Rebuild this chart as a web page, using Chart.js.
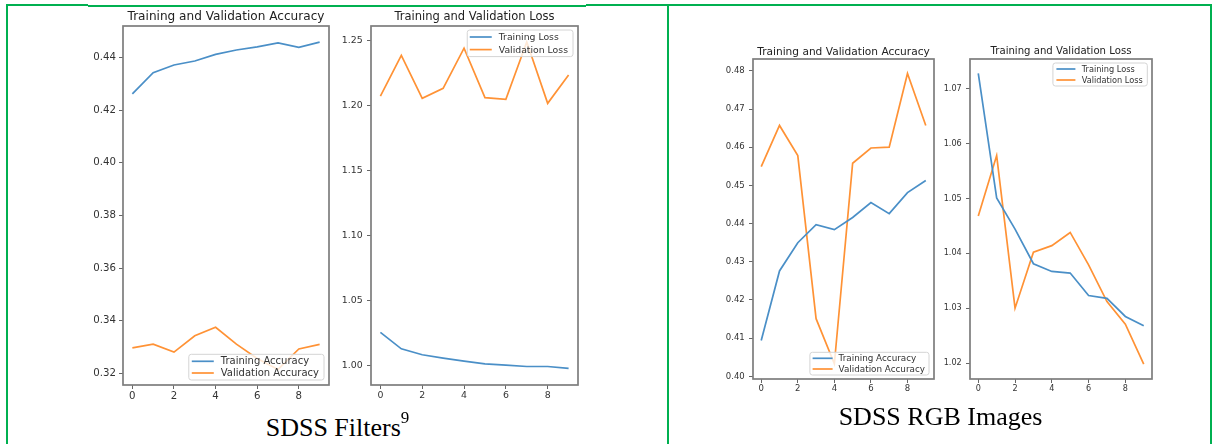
<!DOCTYPE html>
<html><head><meta charset="utf-8">
<script src="https://cdn.jsdelivr.net/npm/chart.js@4"></script>
<style>
html,body{margin:0;padding:0;background:#fff;}
body{width:1216px;height:444px;position:relative;overflow:hidden;}
.g{position:absolute;background:#00b050;}
canvas{position:absolute;}
.cap{position:absolute;font-family:"Liberation Serif","Times New Roman",serif;font-size:26px;line-height:26px;color:#000;text-align:center;white-space:nowrap;}
.cap .sup{font-size:17px;position:relative;top:-13px;line-height:0;}
</style></head>
<body>
<div class="g" style="left:6px;top:4px;width:82px;height:2.4px"></div>
<div class="g" style="left:88px;top:5px;width:498px;height:1.5px"></div>
<div class="g" style="left:586px;top:4px;width:626px;height:2.4px"></div>
<div class="g" style="left:6px;top:4px;width:2.2px;height:440px"></div>
<div class="g" style="left:667px;top:4px;width:2.2px;height:440px"></div>
<div class="g" style="left:1210px;top:4px;width:1.8px;height:440px"></div>

<canvas id="c1"></canvas>
<canvas id="c2"></canvas>
<canvas id="c3"></canvas>
<canvas id="c4"></canvas>

<div class="cap" style="left:8px;width:659px;top:415px">SDSS Filters<span class="sup">9</span></div>
<div class="cap" style="left:671px;width:539px;top:404px">SDSS RGB Images</div>

<script>
// ---------------- data ----------------
const epochs = [0, 1, 2, 3, 4, 5, 6, 7, 8, 9];
const xTicks = [0, 2, 4, 6, 8];

// SDSS Filters
const filtersTrainAcc  = [0.4261, 0.4342, 0.4371, 0.4386, 0.4411, 0.4428, 0.4440, 0.4455, 0.4438, 0.4458];
const filtersValAcc    = [0.3297, 0.3311, 0.3281, 0.3343, 0.3375, 0.3311, 0.3257, 0.3215, 0.3293, 0.3310];
const filtersTrainLoss = [1.0257, 1.0131, 1.0085, 1.0059, 1.0036, 1.0015, 1.0005, 0.9995, 0.9995, 0.9980];
const filtersValLoss   = [1.2072, 1.2385, 1.2055, 1.2131, 1.2440, 1.2060, 1.2047, 1.2487, 1.2016, 1.2234];
const filtersAccTicks  = [0.32, 0.34, 0.36, 0.38, 0.40, 0.42, 0.44];
const filtersLossTicks = [1.00, 1.05, 1.10, 1.15, 1.20, 1.25];
const filtersAccRange  = [0.3156, 0.4519];
const filtersLossRange = [0.9853, 1.2610];

// SDSS RGB Images
const rgbTrainAcc  = [0.4094, 0.4276, 0.4350, 0.4397, 0.4384, 0.4416, 0.4455, 0.4426, 0.4481, 0.4513];
const rgbValAcc    = [0.4549, 0.4657, 0.4578, 0.4151, 0.4033, 0.4558, 0.4598, 0.4600, 0.4793, 0.4657];
const rgbTrainLoss = [1.0728, 1.0501, 1.0444, 1.0381, 1.0367, 1.0364, 1.0323, 1.0318, 1.0285, 1.0268];
const rgbValLoss   = [1.0468, 1.0578, 1.0300, 1.0402, 1.0414, 1.0438, 1.0379, 1.0312, 1.0271, 1.0198];
const rgbAccTicks  = [0.40, 0.41, 0.42, 0.43, 0.44, 0.45, 0.46, 0.47, 0.48];
const rgbLossTicks = [1.02, 1.03, 1.04, 1.05, 1.06, 1.07];
const rgbAccRange  = [0.3993, 0.4831];
const rgbLossRange = [1.0171, 1.0754];

const titleAcc = 'Training and Validation Accuracy';
const titleLoss = 'Training and Validation Loss';
const labelsAcc = ['Training Accuracy', 'Validation Accuracy'];
const labelsLoss = ['Training Loss', 'Validation Loss'];

// ---------------- drawing ----------------
Chart.defaults.font.family = '"DejaVu Sans", sans-serif';
Chart.defaults.color = '#333';
const BLUE = '#4a8fc7', ORANGE = '#ff9235';

const mplDecor = {
  id: 'mplDecor',
  afterDatasetsDraw(chart, args, o) {
    const ctx = chart.ctx, a = chart.chartArea;
    ctx.save();
    // spines
    ctx.strokeStyle = '#7d7d7d';
    ctx.lineWidth = 1.7;
    ctx.strokeRect(a.left, a.top, a.right - a.left, a.bottom - a.top);
    // legend inside axes
    ctx.font = o.size + 'px "DejaVu Sans", sans-serif';
    const ds = chart.data.datasets;
    const tw = Math.max(...ds.map(d => ctx.measureText(d.label).width));
    const w = o.padL + o.handle + o.gap + tw + o.padR;
    const h = o.padT * 2 + o.rowH * (ds.length - 1);
    const x = a.right - o.insetR - w;
    const y = o.loc === 'lower' ? a.bottom - o.insetV - h : a.top + o.insetV;
    ctx.beginPath();
    if (ctx.roundRect) ctx.roundRect(x, y, w, h, 2.5); else ctx.rect(x, y, w, h);
    ctx.fillStyle = 'rgba(255,255,255,0.8)';
    ctx.fill();
    ctx.strokeStyle = '#d4d4d4';
    ctx.lineWidth = 1;
    ctx.stroke();
    ds.forEach((d, i) => {
      const cy = y + o.padT + i * o.rowH;
      ctx.beginPath();
      ctx.strokeStyle = d.borderColor;
      ctx.lineWidth = 1.7;
      ctx.moveTo(x + o.padL, cy);
      ctx.lineTo(x + o.padL + o.handle, cy);
      ctx.stroke();
      ctx.fillStyle = '#333';
      ctx.textBaseline = 'middle';
      ctx.textAlign = 'left';
      ctx.fillText(d.label, x + o.padL + o.handle + o.gap, cy + 0.5);
    });
    ctx.restore();
  }
};

function makePanel(id, spine, p) {
  const ML = 50, MR = 50, MT = 26, MB = 24;
  const cv = document.getElementById(id);
  const W = spine.r - spine.l + ML + MR, H = spine.b - spine.t + MT + MB;
  cv.width = W; cv.height = H;
  cv.style.left = (spine.l - ML) + 'px';
  cv.style.top = (spine.t - MT) + 'px';
  cv.style.width = W + 'px'; cv.style.height = H + 'px';
  const lh = p.titleSize * 1.2;
  const pt = MT - p.titleD - lh / 2, pb = p.titleD - lh / 2;
  const gridOpt = { drawOnChartArea: false, drawTicks: true, tickLength: 4, color: '#666', lineWidth: 1 };
  return new Chart(cv, {
    type: 'line',
    data: {
      datasets: p.series.map(s => ({
        label: s.label,
        data: epochs.map((e, i) => ({ x: e, y: s.values[i] })),
        borderColor: s.color, backgroundColor: s.color,
        borderWidth: 1.7, pointRadius: 0, tension: 0, fill: false
      }))
    },
    options: {
      responsive: false, animation: false, devicePixelRatio: 1,
      layout: { padding: 0 },
      plugins: {
        legend: { display: false }, tooltip: { enabled: false },
        title: { display: true, text: p.title, color: '#222',
                 font: { size: p.titleSize, weight: 'normal', lineHeight: 1.2 },
                 padding: { top: pt, bottom: pb } },
        mplDecor: p.legend
      },
      scales: {
        x: {
          type: 'linear', min: -0.45, max: 9.45,
          afterBuildTicks: s => { s.ticks = xTicks.map(v => ({ value: v })); },
          afterFit: s => { s.height = MB; },
          ticks: { font: { size: p.tickSize }, color: '#333', padding: 1, autoSkip: false, maxRotation: 0, callback: v => String(v) },
          grid: gridOpt, border: { display: false }
        },
        y: {
          type: 'linear', position: 'left', min: p.range[0], max: p.range[1],
          afterBuildTicks: s => { s.ticks = p.yTicks.map(v => ({ value: v })); },
          afterFit: s => { s.width = ML; },
          ticks: { font: { size: p.tickSize }, color: '#333', padding: p.yPad, autoSkip: false, callback: v => Number(v).toFixed(2) },
          grid: gridOpt, border: { display: false }
        },
        yRightSpace: {
          type: 'linear', position: 'right', min: 0, max: 1,
          afterFit: s => { s.width = MR; },
          ticks: { display: false }, grid: { display: false }, border: { display: false }
        }
      }
    },
    plugins: [mplDecor]
  });
}

makePanel('c1', { l: 123, r: 329, t: 26, b: 385 }, {
  title: titleAcc, titleSize: 12.1, titleD: 9, tickSize: 10.2, yPad: 3,
  range: filtersAccRange, yTicks: filtersAccTicks,
  series: [
    { label: labelsAcc[0], values: filtersTrainAcc, color: BLUE },
    { label: labelsAcc[1], values: filtersValAcc, color: ORANGE }
  ],
  legend: { loc: 'lower', size: 10, padL: 3, handle: 22, gap: 7, padR: 5, padT: 7, rowH: 11.7, insetR: 5, insetV: 5 }
});

makePanel('c2', { l: 371, r: 578, t: 26, b: 385 }, {
  title: titleLoss, titleSize: 11.5, titleD: 9.3, tickSize: 9.4, yPad: 4.3,
  range: filtersLossRange, yTicks: filtersLossTicks,
  series: [
    { label: labelsLoss[0], values: filtersTrainLoss, color: BLUE },
    { label: labelsLoss[1], values: filtersValLoss, color: ORANGE }
  ],
  legend: { loc: 'upper', size: 9.3, padL: 2.5, handle: 22, gap: 7, padR: 5, padT: 7, rowH: 12.6, insetR: 5, insetV: 4 }
});

makePanel('c3', { l: 753, r: 934, t: 59, b: 379 }, {
  title: titleAcc, titleSize: 10.6, titleD: 7, tickSize: 8.5, yPad: 4.3,
  range: rgbAccRange, yTicks: rgbAccTicks,
  series: [
    { label: labelsAcc[0], values: rgbTrainAcc, color: BLUE },
    { label: labelsAcc[1], values: rgbValAcc, color: ORANGE }
  ],
  legend: { loc: 'lower', size: 8.8, padL: 2.7, handle: 20, gap: 6, padR: 4, padT: 6, rowH: 10.7, insetR: 5, insetV: 4 }
});

makePanel('c4', { l: 970, r: 1152, t: 59, b: 379 }, {
  title: titleLoss, titleSize: 10.15, titleD: 7.2, tickSize: 8.1, yPad: 4.3,
  range: rgbLossRange, yTicks: rgbLossTicks,
  series: [
    { label: labelsLoss[0], values: rgbTrainLoss, color: BLUE },
    { label: labelsLoss[1], values: rgbValLoss, color: ORANGE }
  ],
  legend: { loc: 'upper', size: 8.2, padL: 3.5, handle: 19, gap: 6.4, padR: 4.5, padT: 6, rowH: 11, insetR: 4.7, insetV: 4 }
});
</script>
</body></html>
